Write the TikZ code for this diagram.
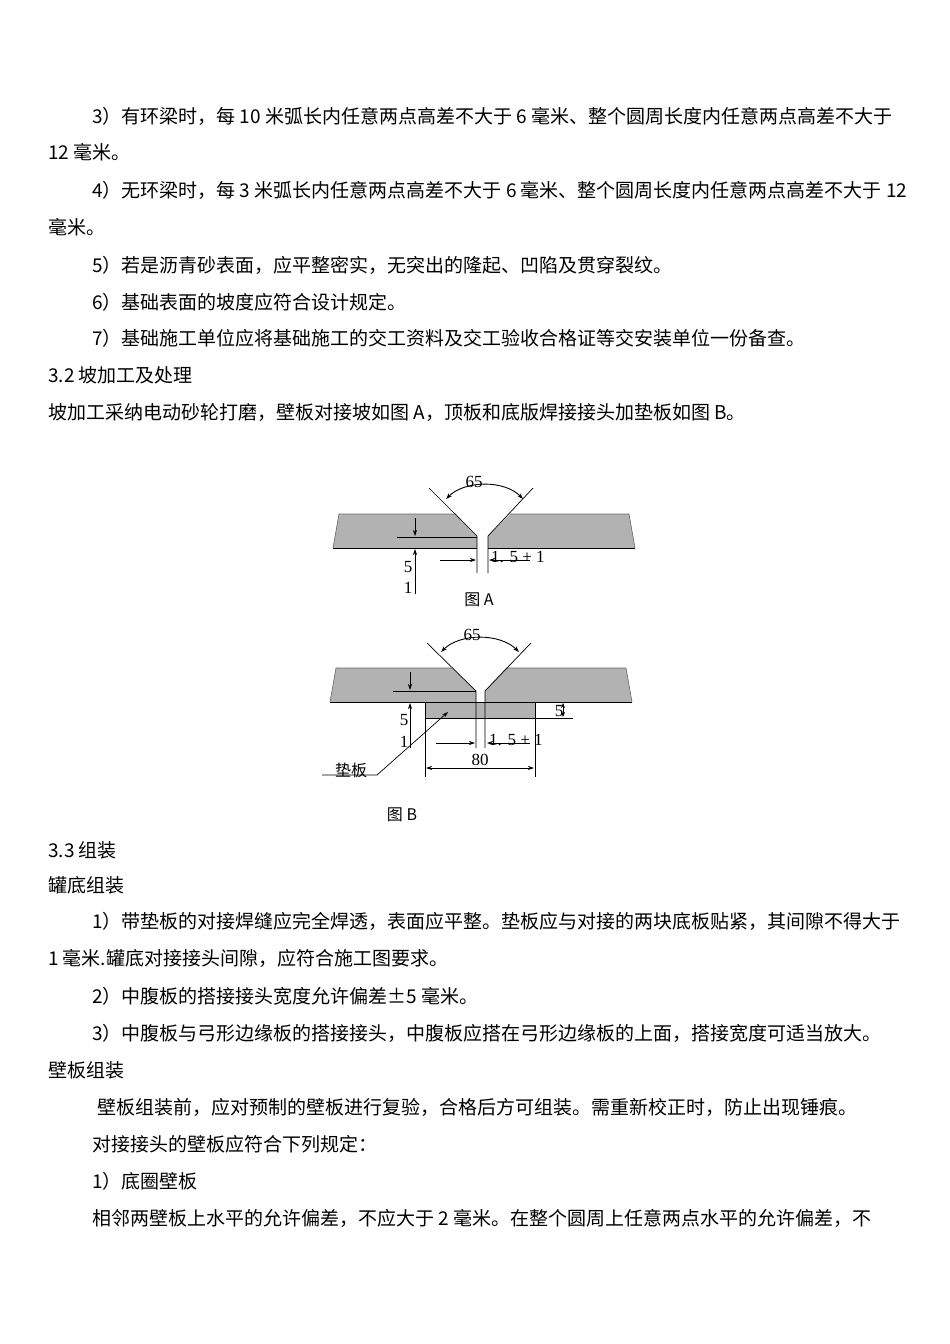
\documentclass[tikz,border=0pt]{standalone}
\usetikzlibrary{arrows.meta}
\usepackage{fontspec}
\newfontfamily\cjk{Noto Sans CJK SC}
\setmainfont{Liberation Serif}
\begin{document}
\begin{tikzpicture}[x=1pt,y=-1pt,
  txt/.style={anchor=west,inner sep=0pt,font=\cjk\fontsize{19}{19}\selectfont},
  lbl/.style={inner sep=0pt,font=\fontsize{17}{17}\selectfont},
  ln/.style={line width=0.7pt},
  dim/.style={line width=0.7pt,-{Stealth[length=6pt,width=4pt]}},
  dimb/.style={line width=0.9pt,{Stealth[length=6pt,width=4pt]}-{Stealth[length=6pt,width=4pt]}}]
\useasboundingbox (0,0) rectangle (950,1344);
\fill[white] (0,0) rectangle (950,1344);
% text
\node[txt] (t1) at (92,116) {3）有环梁时，每 10 米弧长内任意两点高差不大于 6 毫米、整个圆周长度内任意两点高差不大于};
\node[txt] (t2) at (48,152) {12 毫米。};
\node[txt] (t3) at (92,190) {4）无环梁时，每 3 米弧长内任意两点高差不大于 6 毫米、整个圆周长度内任意两点高差不大于 12};
\node[txt] (t4) at (48,227) {毫米。};
\node[txt] (t5) at (92,265) {5）若是沥青砂表面，应平整密实，无突出的隆起、凹陷及贯穿裂纹。};
\node[txt] (t6) at (92,302) {6）基础表面的坡度应符合设计规定。};
\node[txt] (t7) at (92,338) {7）基础施工单位应将基础施工的交工资料及交工验收合格证等交安装单位一份备查。};
\node[txt] (t8) at (48,375) {3.2 坡加工及处理};
\node[txt] (t9) at (48,412) {坡加工采纳电动砂轮打磨，壁板对接坡如图 A，顶板和底版焊接接头加垫板如图 B。};
\node[txt] (t10) at (48,850) {3.3 组装};
\node[txt] (t11) at (48,885) {罐底组装};
\node[txt] (t12) at (92,921) {1）带垫板的对接焊缝应完全焊透，表面应平整。垫板应与对接的两块底板贴紧，其间隙不得大于};
\node[txt] (t13) at (48,958) {1 毫米.罐底对接接头间隙，应符合施工图要求。};
\node[txt] (t14) at (92,996) {2）中腹板的搭接接头宽度允许偏差±5 毫米。};
\node[txt] (t15) at (92,1033) {3）中腹板与弓形边缘板的搭接接头，中腹板应搭在弓形边缘板的上面，搭接宽度可适当放大。};
\node[txt] (t16) at (48,1070) {壁板组装};
\node[txt] (t17) at (97,1107) {壁板组装前，应对预制的壁板进行复验，合格后方可组装。需重新校正时，防止出现锤痕。};
\node[txt] (t18) at (92,1144) {对接接头的壁板应符合下列规定：};
\node[txt] (t19) at (92,1181) {1）底圈壁板};
\node[txt] (t20) at (92,1218) {相邻两壁板上水平的允许偏差，不应大于 2 毫米。在整个圆周上任意两点水平的允许偏差，不};
% Figure A
\fill[black!30] (339,514) -- (456,514) -- (477,536) -- (477,548) -- (333,548) -- cycle;
\fill[black!30] (510,514) -- (629,514) -- (635,548) -- (488,548) -- (488,536) -- cycle;
\draw[draw=black!60,line width=0.6pt] (333,548) -- (339,514) -- (456,514);
\draw[draw=black!60,line width=0.6pt] (510,514) -- (629,514) -- (635,548);
\draw[ln] (333,548) -- (477,548) (488,548) -- (635,548);
\draw[ln] (429,488) -- (477,536) -- (477,573);
\draw[ln] (533,488) -- (488,536) -- (488,573);
\draw[dimb] (446,499) .. controls (465,480) and (505,480) .. (523,499);
\node[lbl] (a65) at (474,482) {65};
\draw[ln] (397,537) -- (477,537);
\draw[dim] (415,518) -- (415,536);
\draw[dim] (415,594) -- (415,549);
\node[lbl] (a5) at (408,567) {5};
\node[lbl] (a1) at (408,588) {1};
\draw[dim] (440,560) -- (476,560);
\draw[dim] (530,560) -- (489,560);
\node[lbl,anchor=west] (a15) at (491,557) {1. 5 + 1};
\node[lbl,font=\cjk\fontsize{16}{16}\selectfont] (fa) at (479,600) {图 A};
% Figure B
\fill[black!30] (336,668) -- (452,668) -- (476,691) -- (476,702) -- (330,702) -- cycle;
\fill[black!30] (506,668) -- (626,668) -- (632,702) -- (485,702) -- (485,691) -- cycle;
\draw[draw=black!60,line width=0.6pt] (330,702) -- (336,668) -- (452,668);
\draw[draw=black!60,line width=0.6pt] (506,668) -- (626,668) -- (632,702);
\draw[ln] (330,702) -- (476,702) (485,702) -- (632,702);
\fill[black!30] (425,702) rectangle (535,718);
\draw[ln] (425,702) rectangle (535,718);
\draw[ln] (427,643) -- (476,691) -- (476,748);
\draw[ln] (531,643) -- (485,691) -- (485,748);
\draw[ln] (425,718) -- (425,777) (535,718) -- (535,777);
\draw[ln] (535,718) -- (573,718);
\draw[dimb] (441,652) .. controls (460,633) and (500,633) .. (519,652);
\node[lbl] (b65) at (472,635) {65};
\draw[ln] (393,691) -- (476,691);
\draw[dim] (410,672) -- (410,690);
\draw[dim] (410,748) -- (410,703);
\node[lbl] (b5) at (404,720) {5};
\node[lbl] (b1) at (404,742) {1};
\draw[line width=0.7pt,{Stealth[length=5pt,width=4pt]}-{Stealth[length=5pt,width=4pt]}] (563,703) -- (563,717);
\node[lbl] (b5r) at (559,711) {5};
\draw[dim] (436,743) -- (475,743);
\draw[dim] (530,743) -- (487,743);
\node[lbl,anchor=west] (b15) at (489,740) {1. 5 + 1};
\draw[dimb] (426,768) -- (534,768);
\node[lbl] (b80) at (480,760) {80};
\node[lbl,font=\cjk\fontsize{16}{16}\selectfont] (pad) at (351,770) {垫板};
\coordinate (padtip) at (448,712);
\draw[dim] (322,775) -- (377,775) -- (padtip);
\node[lbl,font=\cjk\fontsize{16}{16}\selectfont] (fb) at (402,815) {图 B};
\end{tikzpicture}
\end{document}
